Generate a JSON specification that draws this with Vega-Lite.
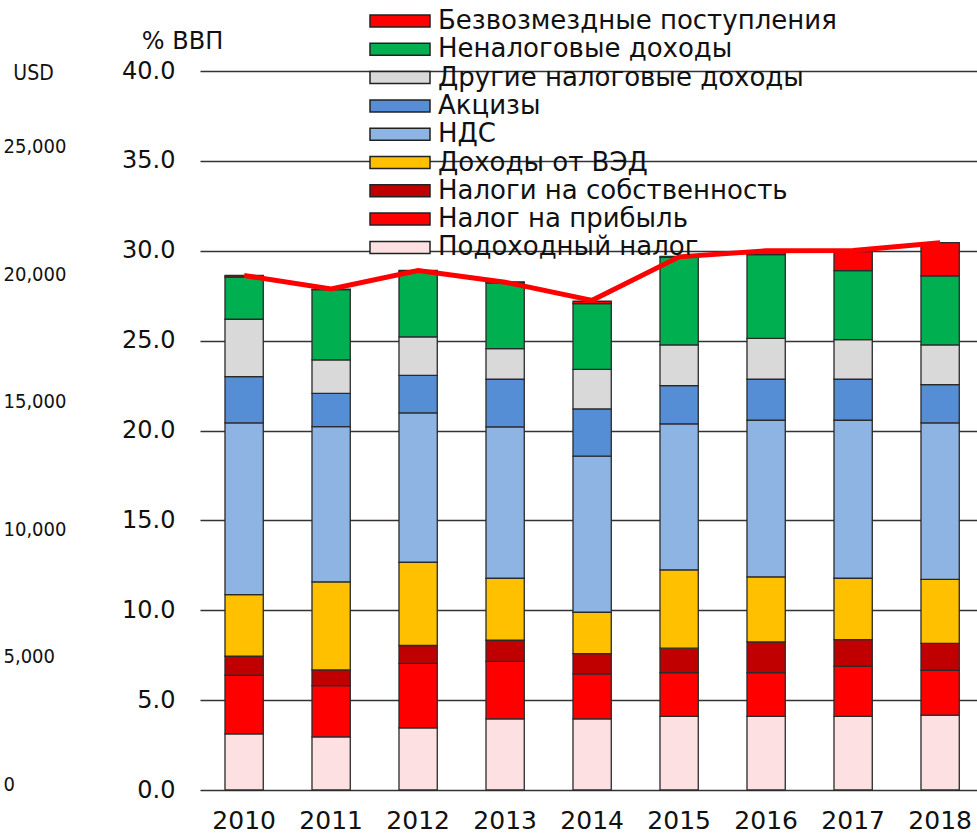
{
  "$schema": "https://vega.github.io/schema/vega-lite/v6.json",
  "width": 777,
  "height": 719,
  "autosize": {"type": "none"},
  "padding": {"left": 200, "top": 71, "right": 0, "bottom": 45},
  "background": "white",
  "config": {"view": {"stroke": null}, "font": "DejaVu Sans"},
  "datasets": {
    "bars": [
      {"year": "2010", "cat": "Подоходный налог", "k": 1, "v": 3.12},
      {"year": "2010", "cat": "Налог на прибыль", "k": 2, "v": 3.27},
      {"year": "2010", "cat": "Налоги на собственность", "k": 3, "v": 1.05},
      {"year": "2010", "cat": "Доходы от ВЭД", "k": 4, "v": 3.43},
      {"year": "2010", "cat": "НДС", "k": 5, "v": 9.55},
      {"year": "2010", "cat": "Акцизы", "k": 6, "v": 2.58},
      {"year": "2010", "cat": "Другие налоговые доходы", "k": 7, "v": 3.19},
      {"year": "2010", "cat": "Неналоговые доходы", "k": 8, "v": 2.35},
      {"year": "2010", "cat": "Безвозмездные поступления", "k": 9, "v": 0.09},
      {"year": "2011", "cat": "Подоходный налог", "k": 1, "v": 2.96},
      {"year": "2011", "cat": "Налог на прибыль", "k": 2, "v": 2.85},
      {"year": "2011", "cat": "Налоги на собственность", "k": 3, "v": 0.87},
      {"year": "2011", "cat": "Доходы от ВЭД", "k": 4, "v": 4.90},
      {"year": "2011", "cat": "НДС", "k": 5, "v": 8.64},
      {"year": "2011", "cat": "Акцизы", "k": 6, "v": 1.85},
      {"year": "2011", "cat": "Другие налоговые доходы", "k": 7, "v": 1.86},
      {"year": "2011", "cat": "Неналоговые доходы", "k": 8, "v": 3.91},
      {"year": "2011", "cat": "Безвозмездные поступления", "k": 9, "v": 0.03},
      {"year": "2012", "cat": "Подоходный налог", "k": 1, "v": 3.46},
      {"year": "2012", "cat": "Налог на прибыль", "k": 2, "v": 3.58},
      {"year": "2012", "cat": "Налоги на собственность", "k": 3, "v": 1.00},
      {"year": "2012", "cat": "Доходы от ВЭД", "k": 4, "v": 4.63},
      {"year": "2012", "cat": "НДС", "k": 5, "v": 8.31},
      {"year": "2012", "cat": "Акцизы", "k": 6, "v": 2.09},
      {"year": "2012", "cat": "Другие налоговые доходы", "k": 7, "v": 2.14},
      {"year": "2012", "cat": "Неналоговые доходы", "k": 8, "v": 3.63},
      {"year": "2012", "cat": "Безвозмездные поступления", "k": 9, "v": 0.06},
      {"year": "2013", "cat": "Подоходный налог", "k": 1, "v": 3.96},
      {"year": "2013", "cat": "Налог на прибыль", "k": 2, "v": 3.20},
      {"year": "2013", "cat": "Налоги на собственность", "k": 3, "v": 1.17},
      {"year": "2013", "cat": "Доходы от ВЭД", "k": 4, "v": 3.45},
      {"year": "2013", "cat": "НДС", "k": 5, "v": 8.42},
      {"year": "2013", "cat": "Акцизы", "k": 6, "v": 2.65},
      {"year": "2013", "cat": "Другие налоговые доходы", "k": 7, "v": 1.71},
      {"year": "2013", "cat": "Неналоговые доходы", "k": 8, "v": 3.65},
      {"year": "2013", "cat": "Безвозмездные поступления", "k": 9, "v": 0.06},
      {"year": "2014", "cat": "Подоходный налог", "k": 1, "v": 3.96},
      {"year": "2014", "cat": "Налог на прибыль", "k": 2, "v": 2.50},
      {"year": "2014", "cat": "Налоги на собственность", "k": 3, "v": 1.13},
      {"year": "2014", "cat": "Доходы от ВЭД", "k": 4, "v": 2.30},
      {"year": "2014", "cat": "НДС", "k": 5, "v": 8.68},
      {"year": "2014", "cat": "Акцизы", "k": 6, "v": 2.63},
      {"year": "2014", "cat": "Другие налоговые доходы", "k": 7, "v": 2.20},
      {"year": "2014", "cat": "Неналоговые доходы", "k": 8, "v": 3.66},
      {"year": "2014", "cat": "Безвозмездные поступления", "k": 9, "v": 0.13},
      {"year": "2015", "cat": "Подоходный налог", "k": 1, "v": 4.10},
      {"year": "2015", "cat": "Налог на прибыль", "k": 2, "v": 2.43},
      {"year": "2015", "cat": "Налоги на собственность", "k": 3, "v": 1.36},
      {"year": "2015", "cat": "Доходы от ВЭД", "k": 4, "v": 4.36},
      {"year": "2015", "cat": "НДС", "k": 5, "v": 8.12},
      {"year": "2015", "cat": "Акцизы", "k": 6, "v": 2.13},
      {"year": "2015", "cat": "Другие налоговые доходы", "k": 7, "v": 2.26},
      {"year": "2015", "cat": "Неналоговые доходы", "k": 8, "v": 4.87},
      {"year": "2015", "cat": "Безвозмездные поступления", "k": 9, "v": 0.05},
      {"year": "2016", "cat": "Подоходный налог", "k": 1, "v": 4.10},
      {"year": "2016", "cat": "Налог на прибыль", "k": 2, "v": 2.43},
      {"year": "2016", "cat": "Налоги на собственность", "k": 3, "v": 1.71},
      {"year": "2016", "cat": "Доходы от ВЭД", "k": 4, "v": 3.62},
      {"year": "2016", "cat": "НДС", "k": 5, "v": 8.71},
      {"year": "2016", "cat": "Акцизы", "k": 6, "v": 2.28},
      {"year": "2016", "cat": "Другие налоговые доходы", "k": 7, "v": 2.28},
      {"year": "2016", "cat": "Неналоговые доходы", "k": 8, "v": 4.65},
      {"year": "2016", "cat": "Безвозмездные поступления", "k": 9, "v": 0.22},
      {"year": "2017", "cat": "Подоходный налог", "k": 1, "v": 4.10},
      {"year": "2017", "cat": "Налог на прибыль", "k": 2, "v": 2.79},
      {"year": "2017", "cat": "Налоги на собственность", "k": 3, "v": 1.48},
      {"year": "2017", "cat": "Доходы от ВЭД", "k": 4, "v": 3.41},
      {"year": "2017", "cat": "НДС", "k": 5, "v": 8.79},
      {"year": "2017", "cat": "Акцизы", "k": 6, "v": 2.28},
      {"year": "2017", "cat": "Другие налоговые доходы", "k": 7, "v": 2.21},
      {"year": "2017", "cat": "Неналоговые доходы", "k": 8, "v": 3.83},
      {"year": "2017", "cat": "Безвозмездные поступления", "k": 9, "v": 1.06},
      {"year": "2018", "cat": "Подоходный налог", "k": 1, "v": 4.16},
      {"year": "2018", "cat": "Налог на прибыль", "k": 2, "v": 2.50},
      {"year": "2018", "cat": "Налоги на собственность", "k": 3, "v": 1.50},
      {"year": "2018", "cat": "Доходы от ВЭД", "k": 4, "v": 3.56},
      {"year": "2018", "cat": "НДС", "k": 5, "v": 8.70},
      {"year": "2018", "cat": "Акцизы", "k": 6, "v": 2.13},
      {"year": "2018", "cat": "Другие налоговые доходы", "k": 7, "v": 2.21},
      {"year": "2018", "cat": "Неналоговые доходы", "k": 8, "v": 3.84},
      {"year": "2018", "cat": "Безвозмездные поступления", "k": 9, "v": 1.85}
    ],
    "totals": [
      {"year": "2010", "total": 28.62},
      {"year": "2011", "total": 27.87},
      {"year": "2012", "total": 28.90},
      {"year": "2013", "total": 28.25},
      {"year": "2014", "total": 27.24},
      {"year": "2015", "total": 29.66},
      {"year": "2016", "total": 30.00},
      {"year": "2017", "total": 30.02},
      {"year": "2018", "total": 30.45}
    ],
    "usd": [{"usd": 0}, {"usd": 28218}]
  },
  "layer": [
    {
      "layer": [
        {
          "data": {"name": "bars"},
          "mark": {"type": "bar", "stroke": "#2a2a2a", "strokeWidth": 1.3},
          "encoding": {
            "x": {
              "field": "year",
              "type": "nominal",
              "scale": {"paddingInner": 0.56, "paddingOuter": 0.2455, "align": 0.585},
              "axis": {
                "title": null,
                "labelAngle": 0,
                "labelFont": "DejaVu Sans",
                "labelFontSize": 25,
                "labelColor": "#111111",
                "ticks": false,
                "domain": false,
                "grid": false,
                "labelPadding": 18
              }
            },
            "y": {
              "field": "v",
              "type": "quantitative",
              "stack": "zero",
              "scale": {"domain": [0, 40], "nice": false},
              "axis": {
                "title": "% ВВП",
                "titleAngle": 0,
                "titleAlign": "center",
                "titleBaseline": "alphabetic",
                "titleX": -18,
                "titleY": -23,
                "titleFont": "DejaVu Sans",
                "titleFontSize": 24,
                "titleFontWeight": "normal",
                "titleColor": "#111111",
                "values": [0, 5, 10, 15, 20, 25, 30, 35, 40],
                "format": ".1f",
                "labelFont": "DejaVu Sans",
                "labelFontSize": 24,
                "labelColor": "#111111",
                "labelPadding": 25,
                "ticks": false,
                "domain": false,
                "grid": true,
                "gridColor": "#333333",
                "gridWidth": 1.3
              }
            },
            "color": {
              "field": "cat",
              "type": "nominal",
              "scale": {
                "domain": ["Безвозмездные поступления", "Неналоговые доходы", "Другие налоговые доходы", "Акцизы", "НДС", "Доходы от ВЭД", "Налоги на собственность", "Налог на прибыль", "Подоходный налог"],
                "range": ["#FF0000", "#00B050", "#D9D9D9", "#558ED5", "#8EB4E3", "#FFC000", "#C00000", "#FF0000", "#FDE0E1"]
              },
              "legend": {
                "orient": "none",
                "legendX": 187,
                "legendY": -63,
                "title": null,
                "padding": 0,
                "symbolType": "M-5,-1H5V1H-5Z",
                "symbolSize": 144,
                "symbolStrokeColor": "#222222",
                "symbolStrokeWidth": 1.5,
                "labelFont": "DejaVu Sans",
                "labelFontSize": 26,
                "labelColor": "#111111",
                "labelOffset": 25,
                "labelLimit": 0,
                "rowPadding": 2.3
              }
            },
            "order": {"field": "k", "type": "quantitative"}
          }
        },
        {
          "data": {"name": "totals"},
          "mark": {"type": "line", "color": "#FF0000", "strokeWidth": 5},
          "encoding": {
            "x": {"field": "year", "type": "nominal"},
            "y": {"field": "total", "type": "quantitative"}
          }
        }
      ]
    },
    {
      "data": {"name": "usd"},
      "mark": {"type": "tick", "opacity": 0},
      "encoding": {
        "y": {
          "field": "usd",
          "type": "quantitative",
          "scale": {"domain": [0, 28218], "nice": false},
          "axis": {
            "orient": "left",
            "offset": 197,
            "title": "USD",
            "titleAngle": 0,
            "titleAlign": "center",
            "titleBaseline": "alphabetic",
            "titleX": 30,
            "titleY": 8,
            "titleFont": "DejaVu Sans Condensed, Liberation Sans Narrow, Liberation Sans, sans-serif",
            "titleFontSize": 21,
            "titleFontWeight": "normal",
            "titleColor": "#111111",
            "values": [0, 5000, 10000, 15000, 20000, 25000],
            "format": ",.0f",
            "labelFont": "DejaVu Sans Condensed, Liberation Sans Narrow, Liberation Sans, sans-serif",
            "labelFontSize": 20,
            "labelColor": "#111111",
            "labelAlign": "left",
            "labelBaseline": "alphabetic",
            "labelPadding": 0,
            "ticks": false,
            "domain": false,
            "grid": false
          }
        }
      }
    }
  ],
  "resolve": {"scale": {"y": "independent"}}
}
